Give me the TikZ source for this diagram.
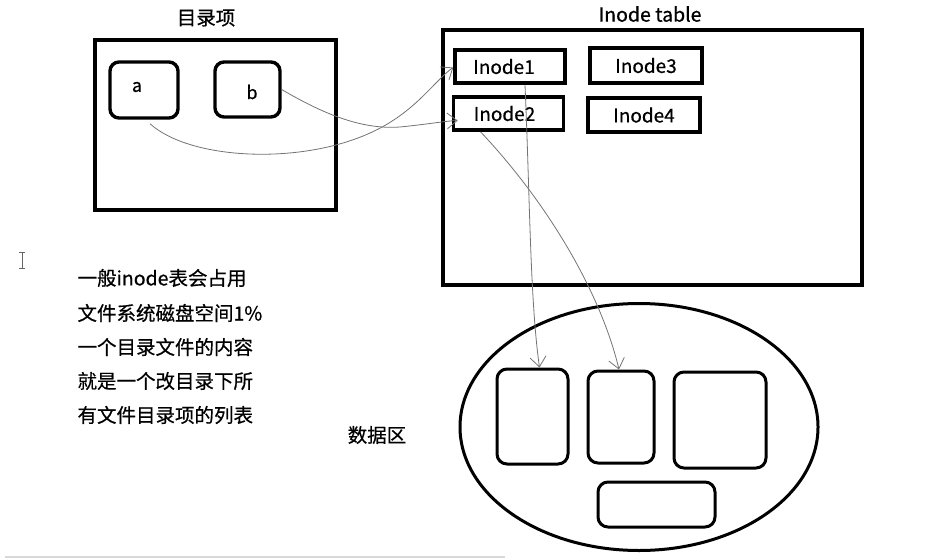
\documentclass[tikz,border=0pt]{standalone}
\usepackage{fontspec}
\newfontfamily\cjk[FakeBold=0.6]{Noto Sans CJK SC}
\usepackage{tikz}
\usetikzlibrary{arrows.meta, positioning, calc, shapes}

\tikzset{
  bigbox/.style={draw, line width=3.6pt, minimum width=#1},
  inbox/.style={draw, line width=3.6pt, minimum width=110, minimum height=33, font=\cjk\fontsize{19}{20}\selectfont},
  itembox/.style={draw, line width=3.4pt, rounded corners=9pt},
  datbox/.style={draw, line width=3pt, rounded corners=10pt},
  link/.style={draw=black!55, line width=0.8pt, -{Straight Barb[length=10pt, width=16pt]}},
  lbl/.style={font=\cjk\fontsize{19.5}{20}\selectfont}
}

\begin{document}
\begin{tikzpicture}[x=1pt, y=-1pt]
            \useasboundingbox (0,0) rectangle (933,559);

            % 目录项
            \node[lbl] (dirt) at (206,18) {目录项};
            \node[bigbox=241, minimum height=170] (dir) at (215.5,125) {};
            \node[itembox, minimum width=68, minimum height=56] (a) at (144,90) {};
            \node[itembox, minimum width=65, minimum height=55] (b) at (247.5,89.5) {};
            \node[lbl, font=\cjk\fontsize{18}{20}\selectfont] at (137,87) {a};
            \node[lbl, font=\cjk\fontsize{18}{20}\selectfont] at (252,92) {b};

            % Inode table
            \node[lbl] (tabt) at (650,14) {Inode table};
            \node[bigbox=419, minimum height=255] (tab) at (652.5,157.5) {};
            \node[inbox] (in1) at (510,66.5) {\hspace*{-12pt}Inode1};
            \node[inbox, minimum height=33] (in2) at (508.5,113.5) {\hspace*{-8pt}Inode2};
            \node[inbox, minimum width=112, minimum height=35] (in3) at (646,65.5) {Inode3};
            \node[inbox, minimum width=112, minimum height=34] (in4) at (644,115) {Inode4};

            % 数据区
            \node[draw, ellipse, line width=3pt, minimum width=358, minimum height=247] (data) at (639,427) {};
            \node[datbox, minimum width=71, minimum height=95] (d1) at (532.5,416.5) {};
            \node[datbox, minimum width=66, minimum height=92] (d2) at (621,417) {};
            \node[datbox, minimum width=92, minimum height=96] (d3) at (720,420) {};
            \node[datbox, minimum width=117, minimum height=45] (d4) at (656.5,504.5) {};
            \node[lbl] (datat) at (377,435) {数据区};

            % 说明文字
            \node[lbl, anchor=west] (t1) at (74,278) {一般inode表会占用};
            \node[lbl, anchor=west] (t2) at (74,313) {文件系统磁盘空间1\%};
            \node[lbl, anchor=west] (t3) at (74,347) {一个目录文件的内容};
            \node[lbl, anchor=west] (t4) at (74,381) {就是一个改目录下所};
            \node[lbl, anchor=west] (t5) at (74,415) {有文件目录项的列表};

            % 连线
            \draw[link] ([xshift=6pt, yshift=-4pt]a.south) .. controls (190,160) and (300,165) .. (370,133)
                        .. controls (415,113) and (435,80) .. ([yshift=-1pt]in1.west);
            \draw[link] (b.east) .. controls (320,112) and (360,130) .. (400,127)
                        .. controls (430,124) and (445,121) .. ([xshift=6pt, yshift=-7pt]in2.west);
            \draw[link] ([xshift=15pt]in1.south) .. controls (530,200) and (530,300) .. ([xshift=7pt]d1.north);
            \draw[link] ([xshift=-28pt]in2.south) .. controls (545,200) and (600,290) .. ([xshift=-2pt]d2.north);

            % 光标
            \draw[black!60, line width=0.8pt] (19,252) -- (25,252) (22,252) -- (22,268) (19,268) -- (25,268);
            \draw[black!15, line width=1.5pt] (5,557) -- (505,557);
        \end{tikzpicture}
\end{document}
